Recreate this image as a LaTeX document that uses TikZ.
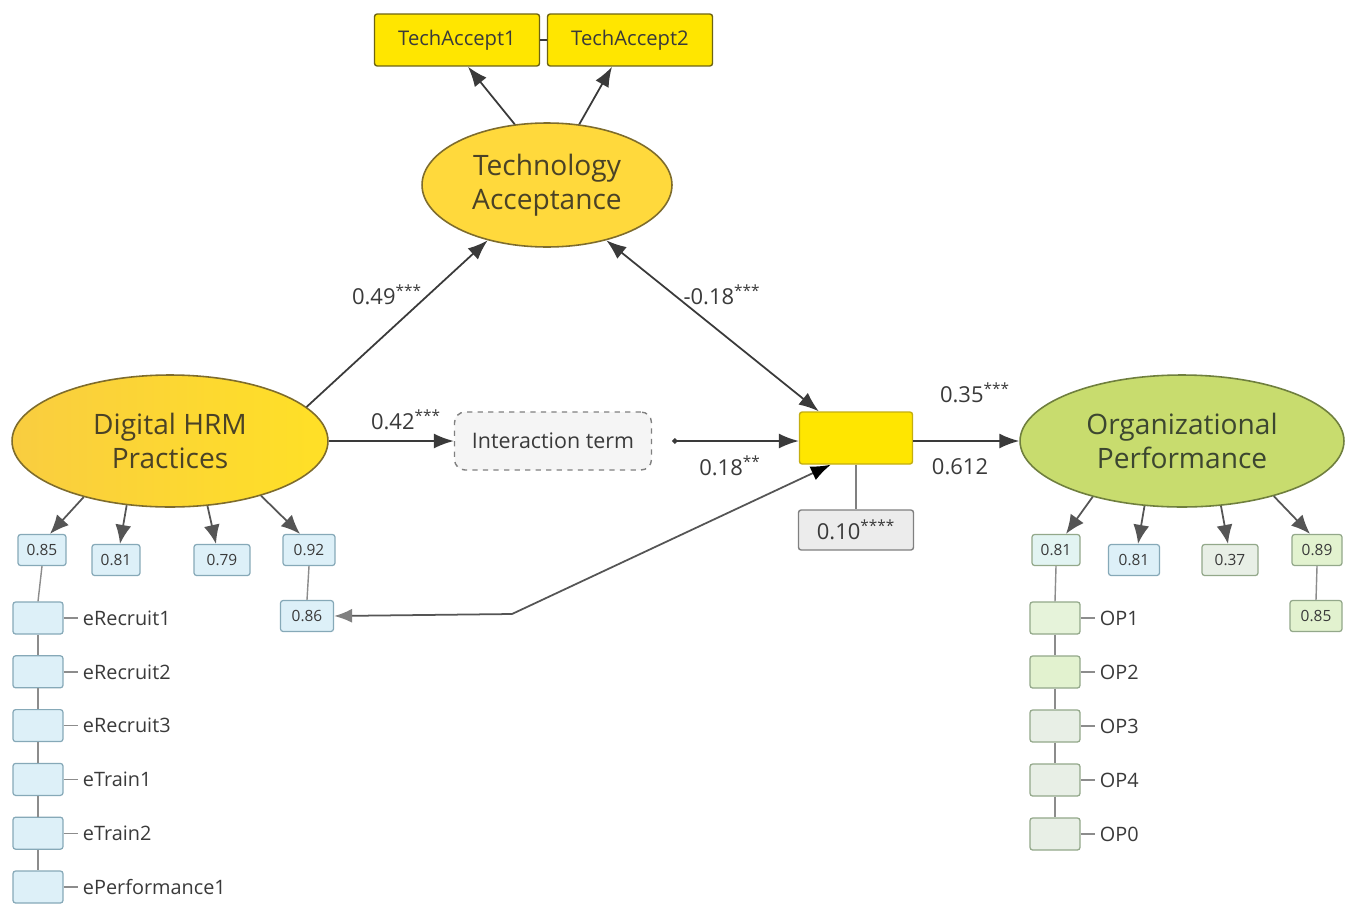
\documentclass[tikz,border=0pt]{standalone}
\usepackage{fontspec}
\setmainfont{Open Sans}
\usetikzlibrary{arrows.meta,shapes.geometric,positioning}
\definecolor{txtdark}{HTML}{3A3A3A}
\definecolor{lattxt}{HTML}{4A4226}
\definecolor{optxt}{HTML}{3C4630}
\definecolor{goldL}{HTML}{F9CD40}
\definecolor{goldR}{HTML}{FFE026}
\definecolor{goldTA}{HTML}{FFD93C}
\definecolor{goldedge}{HTML}{7E6C2C}
\definecolor{opfill}{HTML}{C8DC6E}
\definecolor{opedge}{HTML}{6F7F3E}
\definecolor{ybox}{HTML}{FFE600}
\definecolor{yedge}{HTML}{C4AE10}
\definecolor{tedge}{HTML}{6E6412}
\definecolor{blfill}{HTML}{DDF0F8}
\definecolor{bledge}{HTML}{86A9B8}
\definecolor{cyfill}{HTML}{E2F4F2}
\definecolor{grfill}{HTML}{E6F3DA}
\definecolor{gnfill}{HTML}{E2F2CF}
\definecolor{ggfill}{HTML}{E8EFE6}
\definecolor{gnedge}{HTML}{93A88A}
\definecolor{loadgray}{HTML}{555555}
\definecolor{laddergray}{HTML}{8C8C8C}
\tikzset{
  latent/.style={ellipse, draw=goldedge, line width=0.9pt, inner sep=0pt, align=center,
    font=\fontsize{16}{19.5}\selectfont, text=lattxt},
  techbox/.style={draw=tedge, fill=ybox, line width=0.8pt, rounded corners=1.5pt,
    minimum width=3.3cm, minimum height=1.04cm, inner sep=0pt,
    font=\fontsize{11.5}{13}\selectfont, text=txtdark},
  valbox/.style={draw=bledge, fill=blfill, line width=0.7pt, rounded corners=1.5pt,
    minimum width=0.96cm, minimum height=0.62cm, inner sep=0pt,
    font=\fontsize{8.8}{10}\selectfont, text=txtdark},
  indbox/.style={draw=bledge, fill=blfill, line width=0.7pt, rounded corners=1.5pt,
    minimum width=1cm, minimum height=0.64cm, inner sep=0pt},
  indlab/.style={inner sep=0.1cm, font=\fontsize{11.3}{13}\selectfont, text=txtdark},
  pathlab/.style={font=\fontsize{12.5}{14}\selectfont, text=txtdark},
  conn/.style={draw=txtdark, line width=1pt},
  load/.style={draw=loadgray, line width=1pt, -{Latex[length=3.8mm,width=3.2mm]}},
  ladder/.style={draw=laddergray, line width=0.8pt}
}

\begin{document}
\begin{tikzpicture}[x=0.02cm,y=-0.02cm,>={Latex[length=4mm,width=3mm]}]
\useasboundingbox (0,0) rectangle (1345,903);
\fill[white] (0,0) rectangle (1345,903); %background

% latent variables
\node[latent, minimum width=6.32cm, minimum height=2.64cm, left color=goldL, right color=goldR] (dhrm) at (170,441) {Digital HRM\\Practices};
\node[latent, minimum width=5cm, minimum height=2.48cm, fill=goldTA] (ta) at (547,185) {Technology\\Acceptance};
\node[latent, draw=opedge, text=optxt, minimum width=6.48cm, minimum height=2.64cm, fill=opfill] (op) at (1182,441) {Organizational\\Performance};

% technology acceptance items
\node[techbox] (ta1) at (457,40) {TechAccept1};
\node[techbox] (ta2) at (630,40) {TechAccept2};
\draw[conn] (ta1.east) -- (ta2.west);
\draw[conn,->] (ta.118) -- ([xshift=0.22cm]ta1.south);
\draw[conn,->] (ta.62) -- ([xshift=-0.36cm]ta2.south);

% moderation part
\node[draw=gray, dashed, line width=0.8pt, fill=gray!8, rounded corners=6pt, minimum width=3.94cm, minimum height=1.16cm,
  font=\fontsize{12.2}{14}\selectfont, text=txtdark] (inter) at (553,441) {Interaction term};
\node[draw=yedge, fill=ybox, line width=0.8pt, rounded corners=1.5pt, minimum width=2.26cm, minimum height=1.04cm] (yb) at (856,438) {};
\node[draw=gray, fill=gray!15, line width=0.8pt, rounded corners=1.5pt, minimum width=2.3cm, minimum height=0.8cm,
  font=\fontsize{12.5}{14}\selectfont, text=txtdark] (err) at (856,530) {0.10\textsuperscript{****}};
\draw[ladder, draw=gray] (yb.south) -- (err.north);

% structural paths
\draw[conn,->] (dhrm.14) -- (ta.223);
\draw[conn,->] (dhrm) -- (inter);
\draw[conn,{Circle[length=3pt]}->] ([xshift=0.4cm]inter.east) -- (inter.east -| yb.west);
\draw[conn,<->] (ta.317) -- ([xshift=0.4cm]yb.north west);
\draw[conn,->] (yb.east |- op.west) -- (op.west);

\node[pathlab] at (387,295) {0.49\textsuperscript{***}};
\node[pathlab] at (406,420) {0.42\textsuperscript{***}};
\node[pathlab] at (730,466) {0.18\textsuperscript{**}};
\node[pathlab] at (722,295) {-0.18\textsuperscript{***}};
\node[pathlab] at (975,393) {0.35\textsuperscript{***}};
\node[pathlab] at (960,467) {0.612};

% digital HRM loadings
\node[valbox] (v1) at (42,550) {0.85};
\node[valbox] (v2) at (116,560) {0.81};
\node[valbox, minimum width=1.12cm] (v3) at (222,560) {0.79};
\node[valbox, minimum width=1.04cm] (v4) at (309,550) {0.92};
\node[valbox, minimum width=1.06cm] (v5) at (307,616) {0.86};
\draw[load] (dhrm.213) -- ([xshift=0.16cm]v1.north);
\draw[load] (dhrm.236) -- ([xshift=0.08cm]v2.north);
\draw[load] (dhrm.300) -- ([xshift=-0.12cm]v3.north);
\draw[load] (dhrm.329) -- ([xshift=-0.18cm]v4.north);
\draw[ladder] (v4.south) -- (v5.north);
\coordinate (bend) at (512,614);
\draw[draw=loadgray, line width=1pt, {Latex[length=3.6mm,width=2.8mm,color=gray]}-{Latex[length=4mm,width=3mm,color=black]}]
  (v5.east) -- (bend) -- ([xshift=0.64cm]yb.south west);

\foreach \lab [count=\i] in {eRecruit1,eRecruit2,eRecruit3,eTrain1,eTrain2,ePerformance1}{
  \node[indbox] (e\i) at (38,{618+53.8*(\i-1)}) {};
  \node[indlab, anchor=west] (el\i) at ([xshift=0.28cm]e\i.east) {\lab};
  \draw[ladder] (e\i.east) -- (el\i.west);
}
\draw[ladder] (v1.south) -- (e1.north);
\foreach \i/\j in {1/2,2/3,3/4,4/5,5/6} \draw[ladder] (e\i.south) -- (e\j.north);

% organizational performance loadings
\node[valbox, fill=cyfill, draw=gnedge] (w1) at (1056,550) {0.81};
\node[valbox, minimum width=1.02cm] (w2) at (1134,560) {0.81};
\node[valbox, fill=ggfill, draw=gnedge, minimum width=1.12cm] (w3) at (1230,560) {0.37};
\node[valbox, fill=gnfill, draw=gnedge, minimum width=1cm] (w4) at (1317,550) {0.89};
\node[valbox, fill=gnfill, draw=gnedge, minimum width=1.04cm] (w5) at (1316,616) {0.85};
\draw[load] (op.212) -- ([xshift=0.2cm]w1.north);
\draw[load] (op.240) -- ([xshift=0.08cm]w2.north);
\draw[load] (op.301) -- ([xshift=-0.04cm]w3.north);
\draw[load] (op.329) -- ([xshift=-0.14cm]w4.north);
\draw[ladder] (w4.south) -- (w5.north);

\foreach \lab/\col [count=\i] in {OP1/grfill,OP2/gnfill,OP3/ggfill,OP4/ggfill,OP0/ggfill}{
  \node[indbox, fill=\col, draw=gnedge] (o\i) at (1055,{618+54*(\i-1)}) {};
  \node[indlab, anchor=west] (ol\i) at ([xshift=0.28cm]o\i.east) {\lab};
  \draw[ladder] (o\i.east) -- (ol\i.west);
}
\draw[ladder] (w1.south) -- (o1.north);
\foreach \i/\j in {1/2,2/3,3/4,4/5} \draw[ladder] (o\i.south) -- (o\j.north);
\end{tikzpicture}
\end{document}
